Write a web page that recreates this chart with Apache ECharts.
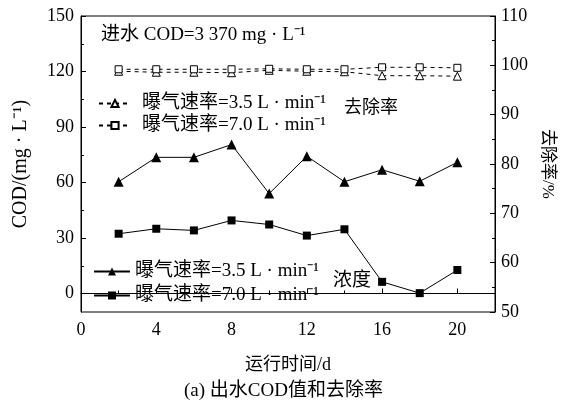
<!DOCTYPE html>
<html>
<head>
<meta charset="utf-8">
<script src="https://cdn.jsdelivr.net/npm/echarts@6/dist/echarts.min.js"></script>
<style>
  html, body { margin: 0; padding: 0; background: #fff; }
  #main { width: 567px; height: 409px; }
</style>
</head>
<body>
<div id="main"></div>
<script>
// 运行时间 (d)
var days = [2, 4, 6, 8, 10, 12, 14, 16, 18, 20];
// 出水COD (mg/L)
var cod35 = [60.4, 73.6, 73.6, 80.5, 54.0, 74.2, 60.4, 66.9, 60.7, 70.9];
var cod70 = [32.3, 35.0, 34.1, 39.5, 37.3, 31.3, 34.7, 6.3, 0.2, 12.7];
// 去除率 (%)
var rem35 = [98.8, 98.6, 98.6, 98.5, 99.0, 98.8, 98.7, 97.9, 97.9, 97.8];
var rem70 = [99.2, 99.2, 99.2, 99.2, 99.3, 99.2, 99.2, 99.6, 99.6, 99.5];
// 刻度
var dayTicks = [0, 4, 8, 12, 16, 20];
var codTicks = [0, 30, 60, 90, 120, 150];
var codMinor = [15, 45, 75, 105, 135];
var rateLabels = {
    'c35': '曝气速率=3.5 L · min⁻¹',
    'c70': '曝气速率=7.0 L · min⁻¹',
    'r35': '曝气速率=3.5 L · min⁻¹',
    'r70': '曝气速率=7.0 L · min⁻¹'
};

function pairs(xs, ys) {
    return xs.map(function (x, i) { return [x, ys[i]]; });
}

var serif = "'Liberation Serif', 'Noto Sans CJK SC', serif";
var black = '#000';

var chart = echarts.init(document.getElementById('main'));
chart.setOption({
    backgroundColor: '#fff',
    animation: false,
    textStyle: { fontFamily: serif, color: black },
    title: [{
        text: '进水 COD=3 370 mg · L⁻¹',
        left: 96, top: 21,
        textStyle: { fontFamily: serif, fontSize: 19, fontWeight: 'normal', color: black }
    }, {
        text: '(a) 出水COD值和去除率',
        left: 'center', top: 377,
        textStyle: { fontFamily: serif, fontSize: 19, fontWeight: 'normal', color: black }
    }],
    graphic: [{
        type: 'text', left: 344, top: 99,
        style: { text: '去除率', font: '18px ' + serif, fill: black }
    }, {
        type: 'text', left: 333, top: 272,
        style: { text: '浓度', font: '19px ' + serif, fill: black }
    }],
    grid: {
        left: 81, right: 72, top: 16, bottom: 97,
        show: true, borderColor: black, borderWidth: 1
    },
    legend: [{
        data: ['r35', 'r70'],
        orient: 'vertical', left: 93, top: 89,
        itemWidth: 32, itemHeight: 9, itemGap: 3,
        formatter: function (n) { return rateLabels[n]; },
        textStyle: { fontFamily: serif, fontSize: 19, color: black, padding: [0, 0, 0, 6] }
    }, {
        data: ['c35', 'c70'],
        orient: 'vertical', left: 88, top: 257,
        itemWidth: 36, itemHeight: 10, itemGap: 5,
        formatter: function (n) { return rateLabels[n]; },
        textStyle: { fontFamily: serif, fontSize: 19, color: black }
    }],
    xAxis: {
        type: 'value', min: 0, max: 22, interval: 4,
        name: '运行时间/d', nameLocation: 'middle', nameGap: 44,
        nameTextStyle: { fontFamily: serif, fontSize: 18, color: black },
        axisLine: { lineStyle: { color: black } },
        axisTick: { inside: true, length: 5, lineStyle: { color: black } },
        minorTick: { show: true, splitNumber: 2, length: 3, lineStyle: { color: black } },
        axisLabel: { customValues: dayTicks, fontFamily: serif, fontSize: 18, color: black, margin: 9 },
        splitLine: { show: false }
    },
    yAxis: [{
        type: 'value', min: -10, max: 150, position: 'left',
        name: 'COD/(mg · L⁻¹)', nameLocation: 'middle', nameGap: 50,
        nameTextStyle: { fontFamily: serif, fontSize: 20, color: black },
        axisLine: { show: true, lineStyle: { color: black } },
        axisTick: { inside: true, length: 5, customValues: codTicks, lineStyle: { color: black } },
        axisLabel: { customValues: codTicks, fontFamily: serif, fontSize: 18, color: black, margin: 7 },
        splitLine: { show: false }
    }, {
        type: 'value', min: 50, max: 110, interval: 10, position: 'right',
        name: '去除率/%', nameLocation: 'middle', nameGap: 44, nameRotate: -90,
        nameTextStyle: { fontFamily: serif, fontSize: 17, color: black },
        axisLine: { show: true, lineStyle: { color: black } },
        axisTick: { inside: true, length: 5, lineStyle: { color: black } },
        minorTick: { show: true, splitNumber: 2, length: 3, lineStyle: { color: black } },
        axisLabel: { fontFamily: serif, fontSize: 18, color: black, margin: 6 },
        splitLine: { show: false }
    }, {
        // 左轴次刻度
        type: 'value', min: -10, max: 150, position: 'left',
        axisLine: { show: false },
        axisTick: { inside: true, length: 3, customValues: codMinor, lineStyle: { color: black } },
        axisLabel: { show: false },
        splitLine: { show: false }
    }],
    series: [{
        name: 'c35', type: 'line', yAxisIndex: 0,
        data: pairs(days, cod35),
        symbol: 'triangle', symbolSize: 10,
        lineStyle: { color: black, width: 1 },
        itemStyle: { color: black }
    }, {
        name: 'c70', type: 'line', yAxisIndex: 0,
        data: pairs(days, cod70),
        symbol: 'rect', symbolSize: 8,
        lineStyle: { color: black, width: 1 },
        itemStyle: { color: black }
    }, {
        name: 'r35', type: 'line', yAxisIndex: 1,
        data: pairs(days, rem35),
        symbol: 'triangle', symbolSize: 8,
        lineStyle: { color: black, width: 1, type: [4, 4] },
        itemStyle: { color: '#fff', borderColor: black, borderWidth: 1 }
    }, {
        name: 'r70', type: 'line', yAxisIndex: 1,
        data: pairs(days, rem70),
        symbol: 'rect', symbolSize: 7,
        lineStyle: { color: black, width: 1, type: [4, 4] },
        itemStyle: { color: '#fff', borderColor: black, borderWidth: 1 }
    }]
});
</script>
</body>
</html>
